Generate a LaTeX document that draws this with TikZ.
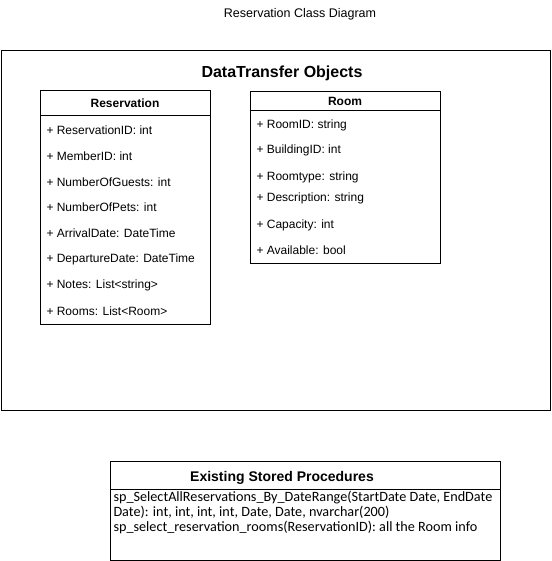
\documentclass[tikz,border=0pt]{standalone}
\usepackage{fontspec}
\setmainfont{Liberation Sans}
\newfontfamily\procfont{Carlito}
\usepackage{tikz}
\usetikzlibrary{positioning}

\begin{document}
\begin{tikzpicture}[x=1pt, y=-1pt, line width=1pt,
    every node/.style = {inner sep=0pt, font=\fontsize{12}{14}\selectfont},
    classbox/.style = {draw, rectangle, anchor=north west},
    attr/.style = {anchor=west},
    heading/.style = {font=\fontsize{12}{14}\selectfont\bfseries}]
    \useasboundingbox (0,0) rectangle (551,561);
    % diagram title and outer frame
    \node[font=\fontsize{12.5}{15}\selectfont] (title) at (300,14) {Reservation Class Diagram};
    \node[classbox, minimum width=549.5pt, minimum height=360pt] (dto) at (0.5,50) {};
    \node[font=\fontsize{16}{19}\selectfont\bfseries] (dtotitle) at (282,73) {DataTransfer Objects};
    % Reservation class
    \node[classbox, minimum width=170pt, minimum height=234pt] (resv) at (40,90) {};
    \node[heading] (resvname) at (125,103) {Reservation};
    \coordinate (resvsplit) at (40,116);
    \draw (resvsplit) -- (resvsplit -| resv.east);
    \foreach \y/\txt [count=\i] in {130/{+ ReservationID: int}, 156/{+ MemberID: int},
        182/{+ NumberOfGuests: int}, 207/{+ NumberOfPets: int},
        233/{+ ArrivalDate: DateTime}, 259/{+ DepartureDate: DateTime},
        285/{+ Notes: List<string>}, 311/{+ Rooms: List<Room>}}
        \node[attr] (resv\i) at (46,\y) {\txt};
    % Room class
    \node[classbox, minimum width=190pt, minimum height=172pt] (room) at (250,91) {};
    \node[heading] (roomname) at (345,101) {Room};
    \coordinate (roomsplit) at (250,111);
    \draw (roomsplit) -- (roomsplit -| room.east);
    \foreach \y/\txt [count=\i] in {125/{+ RoomID: string}, 150/{+ BuildingID: int},
        177/{+ Roomtype: string}, 198/{+ Description: string},
        225/{+ Capacity: int}, 250/{+ Available: bool}}
        \node[attr] (room\i) at (256,\y) {\txt};
    % stored procedures
    \node[classbox, minimum width=390pt, minimum height=99pt] (procs) at (110,461) {};
    \node[font=\fontsize{14}{16}\selectfont\bfseries] (procsname) at (282,478) {Existing Stored Procedures};
    \coordinate (procsplit) at (110,489);
    \draw (procsplit) -- (procsplit -| procs.east);
    \node[attr, anchor=north west, align=left, font=\procfont\fontsize{14.2}{15}\selectfont] (proclist) at (113,491)
        {sp\_SelectAllReservations\_By\_DateRange(StartDate Date, EndDate\\
         Date): int, int, int, int, Date, Date, nvarchar(200)\\
         sp\_select\_reservation\_rooms(ReservationID): all the Room info};
\end{tikzpicture}
\end{document}
